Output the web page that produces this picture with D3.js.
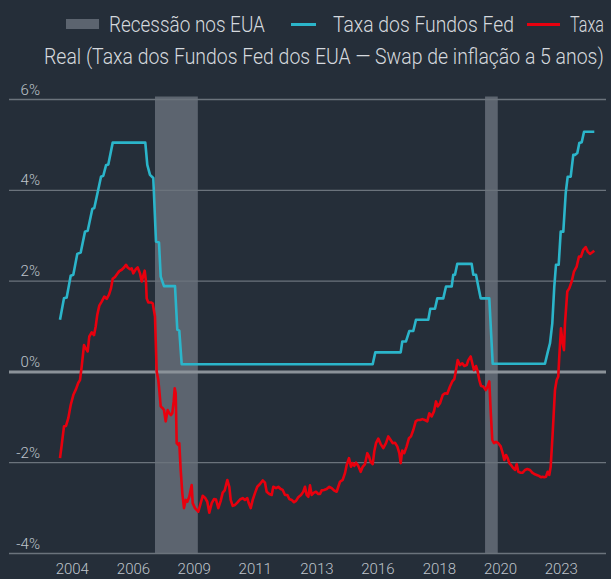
<!DOCTYPE html>
<meta charset="utf-8">
<style>
body { margin: 0; background: #252e39; }
svg { display: block; }
.legend text { font-family: Roboto, "Open Sans", sans-serif; font-weight: 300; font-size: 22px; fill: #d5d9de; }
.eixo text { font-family: Roboto, "Open Sans", sans-serif; font-weight: 300; font-size: 15px; fill: #bfc4cb; }
</style>
<svg width="611" height="579"></svg>
<script src="https://d3js.org/d3.v7.min.js"></script>
<script>
// meses contados a partir de jul/2004
var fedFunds = [[0,1.15],[1.76,1.62],[2.95,1.64],[4.72,2.12],[5.87,2.14],[7.63,2.60],[9.13,2.63],[11.03,3.09],[12.22,3.11],
  [14.25,3.59],[15.13,3.61],[18.09,4.30],[19.1,4.32],[20.29,4.55],[21.31,4.57],[23.25,5.05],[37.63,5.05],[38.51,4.56],
  [39.7,4.34],[41.15,4.27],[42.35,2.87],[43.67,2.85],[44.42,2.10],[45.87,1.89],[50.73,1.89],[51.74,0.93],[52.62,0.91],
  [53.68,0.17],[137.93,0.17],[139.08,0.43],[150.28,0.43],[150.99,0.67],[152.62,0.67],[154.08,0.90],[155.84,0.90],
  [157.03,1.15],[162.46,1.15],[163.34,1.39],[165.41,1.39],[166.43,1.62],[169.07,1.62],[170.27,1.88],[172.78,1.88],
  [173.49,2.14],[174.24,2.14],[175.25,2.38],[181.6,2.38],[182.31,2.14],[183.5,2.14],[184.51,1.88],[185.57,1.62],
  [189.37,1.62],[190.87,0.18],[213.93,0.18],[215.12,0.43],[216.14,0.63],[217.16,1.07],[218.04,1.88],[218.79,2.36],
  [219.98,2.36],[220.87,3.09],[222.02,3.09],[223.08,3.94],[223.96,4.30],[225.28,4.30],[226.42,4.78],[227.17,4.78],
  [228.2,4.82],[229.08,5.04],[230.14,5.06],[231.16,5.29],[235.69,5.29]];

var taxaReal = [[0,-1.90],[0.75,-1.61],[1.76,-1.20],[2.65,-1.19],[3.66,-1.02],[4.72,-0.73],[5.87,-0.51],[7.06,-0.38],
  [8.07,-0.24],[8.82,-0.18],[9.57,0.12],[10.59,0.59],[11.34,0.52],[12.22,0.45],[12.92,0.78],[13.98,0.87],[15.0,0.81],
  [15.75,1.00],[16.45,1.26],[17.34,1.46],[18.39,1.55],[19.54,1.66],[20.6,1.61],[21.61,1.70],[22.5,1.84],[23.25,2.05],
  [24.26,2.09],[25.28,2.16],[26.16,2.22],[27.22,2.25],[28.23,2.30],[29.11,2.36],[29.86,2.30],[30.88,2.26],[31.63,2.28],
  [32.33,2.17],[33.39,2.26],[34.27,2.30],[35.29,2.17],[36.04,1.99],[36.74,2.12],[37.36,2.23],[37.93,1.99],[38.24,1.62],
  [38.95,1.53],[40.14,1.53],[40.89,1.51],[41.9,1.22],[42.65,0.01],[43.36,-0.18],[43.8,-0.40],[44.42,-0.76],[45.3,-0.80],
  [45.87,-0.84],[46.62,-1.09],[47.51,-0.84],[48.21,-0.91],[48.96,-0.95],[49.54,-0.91],[50.15,-0.65],[50.6,-0.36],
  [51.04,-0.47],[51.48,-1.57],[52.18,-1.61],[52.62,-1.57],[53.24,-2.16],[53.95,-2.67],[54.7,-3.00],[55.45,-2.82],
  [56.15,-2.86],[57.03,-2.75],[58.09,-2.49],[58.53,-2.89],[59.55,-3.00],[61.0,-3.08],[62.06,-2.89],[62.94,-2.73],
  [63.96,-2.77],[64.97,-2.86],[65.86,-3.10],[66.92,-2.89],[67.93,-2.80],[68.81,-2.81],[69.83,-3.00],[70.89,-2.84],
  [71.77,-2.66],[72.65,-2.61],[73.8,-2.38],[74.68,-2.53],[75.3,-2.82],[76.18,-2.95],[77.19,-2.93],[78.21,-2.88],
  [79.4,-2.81],[80.59,-2.78],[81.6,-2.82],[82.62,-2.78],[83.24,-2.89],[84.12,-3.00],[85.0,-2.82],[86.01,-2.67],
  [87.03,-2.53],[88.22,-2.47],[89.41,-2.39],[90.43,-2.44],[91.17,-2.64],[92.32,-2.69],[93.38,-2.71],[94.09,-2.53],
  [95.28,-2.56],[96.29,-2.53],[97.35,-2.58],[98.23,-2.60],[99.25,-2.71],[100.26,-2.71],[101.15,-2.80],[102.2,-2.82],
  [103.22,-2.87],[104.1,-2.84],[105.11,-2.76],[106.31,-2.71],[107.32,-2.64],[108.07,-2.53],[108.82,-2.71],[109.53,-2.75],
  [110.28,-2.50],[111.03,-2.71],[112.04,-2.66],[112.92,-2.64],[113.94,-2.69],[114.69,-2.69],[115.44,-2.61],[116.45,-2.60],
  [117.64,-2.58],[118.79,-2.53],[119.85,-2.56],[120.86,-2.61],[122.05,-2.64],[122.76,-2.53],[123.51,-2.42],[124.7,-2.38],
  [125.71,-2.23],[126.46,-2.05],[127.48,-1.90],[128.36,-2.09],[129.11,-2.01],[129.82,-2.07],[130.57,-2.00],[131.58,-2.07],
  [132.64,-2.20],[133.52,-2.09],[134.54,-2.03],[135.55,-1.79],[136.3,-1.86],[137.05,-1.98],[137.93,-2.03],[138.64,-1.75],
  [139.39,-1.57],[140.4,-1.47],[141.46,-1.59],[142.61,-1.68],[143.8,-1.57],[144.81,-1.42],[145.87,-1.50],[146.75,-1.57],
  [147.77,-1.56],[148.78,-1.64],[149.67,-1.79],[150.28,-2.01],[150.99,-1.73],[151.87,-1.79],[152.93,-1.64],[153.94,-1.46],
  [154.83,-1.42],[155.84,-1.28],[156.9,-1.09],[157.78,-1.06],[158.8,-1.06],[159.81,-1.04],[161.0,-1.06],[162.02,-1.09],
  [162.9,-0.91],[163.96,-0.98],[164.97,-0.87],[165.85,-0.65],[166.6,-0.76],[167.62,-0.69],[168.81,-0.51],[169.82,-0.47],
  [170.84,-0.48],[172.03,-0.32],[173.04,-0.21],[173.93,-0.16],[174.68,0.04],[175.43,0.26],[176.44,0.15],[177.46,0.19],
  [178.34,0.13],[179.4,0.15],[180.11,0.26],[181.16,0.34],[181.87,0.19],[182.62,0.04],[183.5,0.13],[184.25,0.01],
  [184.96,-0.18],[185.71,-0.31],[186.72,-0.32],[187.78,-0.40],[188.66,-0.32],[189.37,-0.21],[189.99,-0.87],[190.69,-1.50],
  [191.44,-1.57],[192.32,-1.54],[193.34,-1.57],[194.4,-1.64],[195.28,-1.79],[195.99,-1.94],[196.73,-1.83],[197.48,-1.90],
  [198.19,-2.01],[199.25,-2.07],[199.96,-2.12],[200.71,-2.16],[201.45,-2.03],[202.16,-2.20],[203.22,-2.22],[204.1,-2.22],
  [205.11,-2.16],[206.13,-2.14],[207.32,-2.16],[208.33,-2.22],[209.21,-2.25],[210.27,-2.27],[211.29,-2.29],[212.17,-2.32],
  [212.92,-2.31],[213.62,-2.32],[214.37,-2.31],[215.12,-2.20],[215.83,-2.27],[216.45,-2.09],[217.33,-1.35],[218.34,-0.40],
  [219.09,-0.18],[219.8,-0.10],[220.24,0.34],[220.99,0.96],[221.74,0.63],[222.31,0.48],[222.76,1.07],[223.77,1.77],
  [224.65,1.84],[225.71,1.99],[226.73,2.21],[227.92,2.32],[228.93,2.54],[229.82,2.54],[230.83,2.69],[231.89,2.75],
  [232.77,2.65],[233.78,2.60],[234.67,2.63],[235.69,2.67]];

var recessoes = [[41.9, 60.8], [187.5, 193.1]];
var tickMeses = [5.2, 32.2, 59, 85.9, 113.1, 140, 167.1, 194.1, 220.9];
var tickAnos = ["2004", "2006", "2009", "2011", "2013", "2016", "2018", "2020", "2023"];
var yTicks = [-4, -2, 0, 2, 4, 6];

var svg = d3.select("svg");

var x = d3.scaleLinear().domain([0, 235.69]).range([60, 594.3]);
var y = d3.scaleLinear().domain([-4, 6]).range([553.5, 99.5]);

// fundo
svg.append("rect").attr("width", 611).attr("height", 579).attr("fill", "#252e39");

// faixas de recessão
svg.append("g").selectAll("rect")
  .data(recessoes)
  .enter().append("rect")
    .attr("x", d => x(d[0]))
    .attr("width", d => x(d[1]) - x(d[0]))
    .attr("y", y(6) - 3)
    .attr("height", y(-4) - y(6) + 3)
    .attr("fill", "#5c646f");

// grade + rótulos do eixo y
var gy = svg.append("g").attr("class", "eixo");
gy.selectAll("line")
  .data(yTicks)
  .enter().append("line")
    .attr("x1", 9).attr("x2", 606)
    .attr("y1", d => y(d)).attr("y2", d => y(d))
    .attr("stroke", d => d === 0 ? "#8b9299" : "#6b737c")
    .attr("stroke-width", d => d === 0 ? 3 : 1.3);
gy.selectAll("text")
  .data(yTicks)
  .enter().append("text")
    .attr("x", 40).attr("y", d => y(d) - 5)
    .attr("text-anchor", "end")
    .text(d => d + "%");

// eixo x
var xAxis = d3.axisBottom(x)
  .tickValues(tickMeses)
  .tickFormat((d, i) => tickAnos[i])
  .tickSize(0).tickPadding(0);
svg.append("g")
  .attr("class", "eixo")
  .attr("transform", "translate(0,562)")
  .call(xAxis)
  .call(g => g.select(".domain").remove())
  .selectAll("text").attr("dy", "0.8em");

var line = d3.line().x(d => x(d[0])).y(d => y(d[1]));

svg.append("path")
  .datum(fedFunds)
  .attr("fill", "none")
  .attr("stroke", "#2bb5ca")
  .attr("stroke-width", 2.6)
  .attr("stroke-linejoin", "round")
  .attr("d", line);

svg.append("path")
  .datum(taxaReal)
  .attr("fill", "none")
  .attr("stroke", "#e8000e")
  .attr("stroke-width", 2.6)
  .attr("stroke-linejoin", "round")
  .attr("d", line);

// legenda (fonte estreita: comprime na horizontal até a largura do original)
var leg = svg.append("g").attr("class", "legend");
function legTexto(txt, x0, y0, largura) {
  var t = leg.append("text").text(txt);
  var w = t.node().getComputedTextLength();
  t.attr("transform", "translate(" + x0 + "," + y0 + ") scale(" + (largura / w) + ",1)");
}
leg.append("rect").attr("x", 66).attr("y", 19).attr("width", 33).attr("height", 10).attr("fill", "#5c646f");
legTexto("Recessão nos EUA", 109, 32, 156);
leg.append("line").attr("x1", 291).attr("x2", 316).attr("y1", 24.5).attr("y2", 24.5).attr("stroke", "#2bb5ca").attr("stroke-width", 3);
legTexto("Taxa dos Fundos Fed", 333, 32, 181);
leg.append("line").attr("x1", 527).attr("x2", 560).attr("y1", 24.5).attr("y2", 24.5).attr("stroke", "#e8000e").attr("stroke-width", 3);
legTexto("Taxa", 570, 32, 34);
legTexto("Real (Taxa dos Fundos Fed dos EUA — Swap de inflação a 5 anos)", 44, 64, 560);
</script>
